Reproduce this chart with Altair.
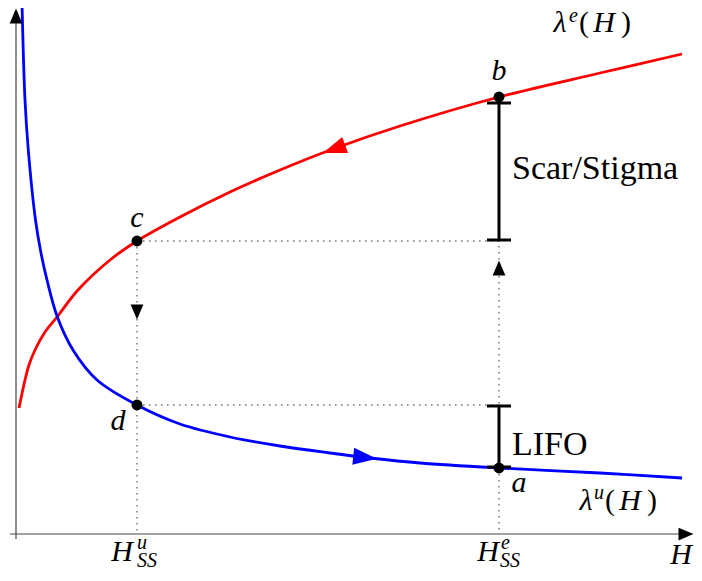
import altair as alt
import pandas as pd

# ---- data (H, lambda) ----
red_H = [0.03, 0.09, 0.13, 0.19, 0.29, 0.41, 0.62, 0.94, 1.21, 1.64, 2.14, 2.64, 3.17, 3.84, 4.83, 5.84, 6.66]
red_L = [1.26, 1.54, 1.69, 1.84, 2.02, 2.17, 2.44, 2.74, 2.93, 3.17, 3.42, 3.64, 3.85, 4.08, 4.37, 4.61, 4.80]

blue_H = [0.06, 0.09, 0.123, 0.195, 0.25, 0.31, 0.41, 0.57, 0.81, 1.21, 1.64, 2.14, 2.64, 3.14, 3.54, 4.04, 4.83, 5.84, 6.66]
blue_L = [5.31, 4.34, 3.84, 3.14, 2.81, 2.54, 2.18, 1.84, 1.54, 1.29, 1.10, 0.97, 0.88, 0.81, 0.76, 0.71, 0.66, 0.61, 0.56]

H_u, H_e = 1.21, 4.83
pt_names = ["a", "b", "c", "d"]
pt_H = [H_e, H_e, H_u, H_u]
pt_L = [0.66, 4.37, 2.93, 1.29]

scar_top, scar_bot = 4.31, 2.94
lifo_top, lifo_bot = 1.28, 0.67
cap = 0.12

# ---- scales ----
xs = alt.Scale(domain=[-0.08, 6.78], nice=False, zero=False)
ys = alt.Scale(domain=[-0.34, 5.26], nice=False, zero=False)
X = alt.X("x:Q", scale=xs, axis=None)
Y = alt.Y("y:Q", scale=ys, axis=None)

# ---- curves ----
curves = pd.DataFrame({
    "x": red_H + blue_H,
    "y": red_L + blue_L,
    "s": ["red"] * len(red_H) + ["blue"] * len(blue_H),
    "o": list(range(len(red_H))) + list(range(len(blue_H))),
})
curve_layer = alt.Chart(curves).mark_line(strokeWidth=2.8, interpolate="catmull-rom", clip=True).encode(
    x=X, y=Y, color=alt.Color("s:N", scale=None), detail="s:N", order="o:Q"
)

def seg_df(segs):
    return pd.DataFrame(segs, columns=["x", "y", "x2", "y2"])

axis_segs = seg_df([
    (-0.06, 0.0, 6.66, 0.0),
    (0.0, -0.05, 0.0, 5.14),
])
dotted_segs = seg_df([
    (H_u, pt_L[2], H_u, 0.0),
    (H_e, scar_bot, H_e, 0.0),
    (H_u, pt_L[2], H_e, pt_L[2]),
    (H_u, pt_L[3], H_e, pt_L[3]),
])
bracket_segs = seg_df([
    (H_e, scar_top, H_e, scar_bot),
    (H_e - cap, scar_top, H_e + cap, scar_top),
    (H_e - cap, scar_bot, H_e + cap, scar_bot),
    (H_e, lifo_top, H_e, lifo_bot),
    (H_e - cap, lifo_top, H_e + cap, lifo_top),
    (H_e - cap, lifo_bot, H_e + cap, lifo_bot),
])

def seg_layer(df, **kw):
    return alt.Chart(df).mark_rule(**kw).encode(
        x=X, y=Y, x2=alt.X2("x2:Q"), y2=alt.Y2("y2:Q")
    )

axis_layer = seg_layer(axis_segs, color="#444444", strokeWidth=1.2)
dotted_layer = seg_layer(dotted_segs, color="#777777", strokeWidth=1.5, strokeDash=[1.6, 4.4])
bracket_layer = seg_layer(bracket_segs, color="black", strokeWidth=3)

# ---- points ----
pts = pd.DataFrame({"x": pt_H, "y": pt_L, "n": pt_names})
pt_layer = alt.Chart(pts).mark_circle(size=120, color="black", opacity=1).encode(x=X, y=Y)

# ---- arrowheads ----
big_arrows = pd.DataFrame({"x": [3.18, 3.49], "y": [3.85, 0.765], "a": [250, 96], "c": ["red", "blue"]})
small_arrows = pd.DataFrame({
    "x": [H_u, H_e, 0.0, 6.70],
    "y": [2.22, 2.66, 5.18, 0.0],
    "a": [180, 0, 0, 90],
})
big_arrow_layer = alt.Chart(big_arrows).mark_point(
    shape="M0,-1L0.72,1L-0.72,1Z", size=560, filled=True, opacity=1, strokeWidth=0
).encode(x=X, y=Y, angle=alt.Angle("a:Q", scale=None), color=alt.Color("c:N", scale=None))
small_arrow_layer = alt.Chart(small_arrows).mark_point(
    shape="M0,-1L0.85,1L-0.85,1Z", size=225, filled=True, opacity=1, color="black", strokeWidth=0
).encode(x=X, y=Y, angle=alt.Angle("a:Q", scale=None))

# ---- text ----
math_text = ["b", "c", "d", "a", "λ", "H", "λ", "H", "H", "H", "H"]
math_x = [4.83, 1.21, 1.02, 5.03, 5.44, 5.88, 5.70, 6.14, 1.06, 4.72, 6.65]
math_y = [4.54, 3.07, 1.04, 0.42, 5.02, 5.02, 0.24, 0.24, -0.27, -0.27, -0.30]

sup_text = ["e", "u", "u", "e", "SS", "SS"]
sup_x = [5.53, 5.78, 1.21, 4.85, 1.21, 4.84]
sup_y = [5.12, 0.35, -0.15, -0.15, -0.33, -0.33]

paren_text = ["(", ")", "(", ")"]
paren_x = [5.68, 6.10, 5.94, 6.36]
paren_y = [5.02, 5.02, 0.24, 0.24]

word_text = ["Scar/Stigma", "LIFO"]
word_x = [4.96, 4.96]
word_y = [3.55, 0.79]

def text_layer(t, x, y, **kw):
    df = pd.DataFrame({"t": t, "x": x, "y": y})
    return alt.Chart(df).mark_text(font="Liberation Serif", baseline="alphabetic", color="black", **kw).encode(
        x=X, y=Y, text="t:N"
    )

math_layer = text_layer(math_text, math_x, math_y, fontSize=30, fontStyle="italic", align="center")
sup_layer = text_layer(sup_text, sup_x, sup_y, fontSize=20, fontStyle="italic", align="left")
paren_layer = text_layer(paren_text, paren_x, paren_y, fontSize=30, align="center")
word_layer = text_layer(word_text, word_x, word_y, fontSize=34, align="left")

chart = alt.layer(
    axis_layer, dotted_layer, curve_layer, bracket_layer, pt_layer,
    big_arrow_layer, small_arrow_layer, math_layer, sup_layer, paren_layer, word_layer
).properties(
    width=686, height=560, autosize=alt.AutoSizeParams(type="none"), padding=0
).configure_view(stroke=None)

chart.save("out.html", embed_options={"renderer": "svg", "actions": False})
